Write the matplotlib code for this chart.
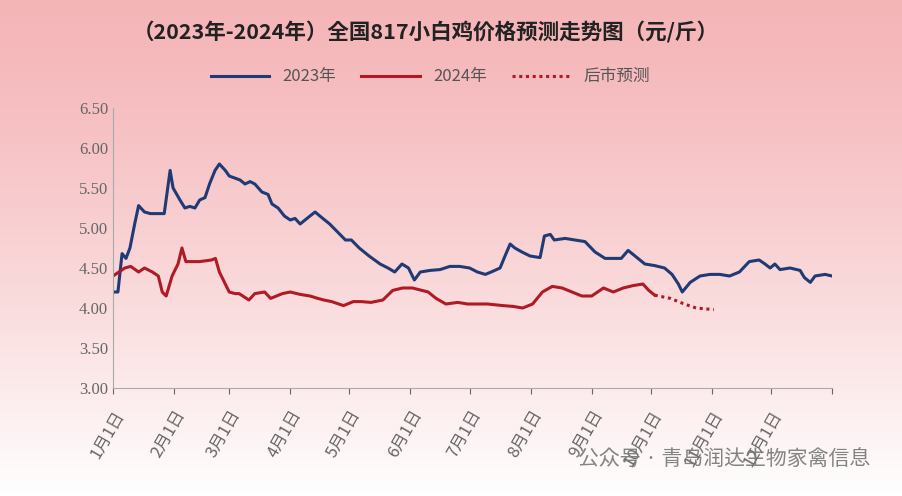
import numpy as np
import matplotlib.pyplot as plt

plt.rcParams['font.family'] = ['Noto Sans CJK SC', 'Noto Sans CJK JP', 'DejaVu Sans']
plt.rcParams['axes.unicode_minus'] = False

# 2023年 (日序, 价格)
d2023 = [0, 2.5, 4.6, 6.6, 8.6, 11, 13, 16, 19, 26, 29, 30.5, 34, 36.5, 39, 41.6, 44, 46.7, 49, 51.8, 54, 57, 59, 64.5,
         67, 69.6, 72, 75.6, 78.7, 80.7, 83.8, 87, 90, 92.4, 95, 100, 102.6, 105, 110, 114, 118, 121, 125, 130, 135.6,
         139.6, 143, 146.7, 150, 153, 156, 161, 166, 171, 176, 181, 185, 189, 192, 196.5, 199, 201.6, 204, 207.6, 211.7,
         216.8, 219, 222, 224, 229.5, 234.5, 239.6, 244.7, 249.8, 255, 258, 261.5, 265, 270, 275, 280, 283.8, 287, 289,
         293, 298, 303, 308, 313, 318, 323, 328, 331, 333.6, 336, 338.6, 343.7, 348.8, 351, 354, 356.4, 361.5, 365]
v2023 = [4.20, 4.20, 4.68, 4.62, 4.75, 5.05, 5.28, 5.20, 5.18, 5.18, 5.72, 5.50, 5.35, 5.25, 5.27, 5.25, 5.35, 5.38, 5.55,
         5.72, 5.80, 5.72, 5.65, 5.60, 5.55, 5.58, 5.55, 5.45, 5.42, 5.30, 5.25, 5.15, 5.10, 5.12, 5.05, 5.15, 5.20, 5.15,
         5.05, 4.95, 4.85, 4.85, 4.75, 4.65, 4.55, 4.50, 4.45, 4.55, 4.50, 4.35, 4.45, 4.47, 4.48, 4.52, 4.52, 4.50, 4.45,
         4.42, 4.45, 4.50, 4.65, 4.80, 4.75, 4.70, 4.65, 4.63, 4.90, 4.92, 4.85, 4.87, 4.85, 4.83, 4.70, 4.62, 4.62, 4.62,
         4.72, 4.65, 4.55, 4.53, 4.50, 4.42, 4.30, 4.20, 4.32, 4.40, 4.42, 4.42, 4.40, 4.45, 4.58, 4.60, 4.55, 4.50, 4.55,
         4.48, 4.50, 4.47, 4.38, 4.32, 4.40, 4.42, 4.40]

# 2024年
d2024 = [0, 3, 6, 9, 13, 16, 20, 23, 25, 27, 30, 33, 35, 37, 44, 50, 52, 54, 57, 59, 62, 64, 69, 72, 77, 80, 86, 90, 95,
         100, 104, 107, 111, 117, 122, 124, 126, 131, 137, 142, 147, 152, 160, 164, 169, 175, 180, 185, 190, 198, 203, 208,
         213, 218, 223, 228, 233, 238, 243, 249, 254, 259, 264, 269, 272, 275]
v2024 = [4.40, 4.45, 4.50, 4.52, 4.45, 4.50, 4.45, 4.40, 4.20, 4.15, 4.40, 4.55, 4.75, 4.58, 4.58, 4.60, 4.62, 4.45, 4.30,
         4.20, 4.18, 4.18, 4.10, 4.18, 4.20, 4.12, 4.18, 4.20, 4.17, 4.15, 4.12, 4.10, 4.08, 4.03, 4.08, 4.08, 4.08, 4.07,
         4.10, 4.22, 4.25, 4.25, 4.20, 4.12, 4.05, 4.07, 4.05, 4.05, 4.05, 4.03, 4.02, 4.00, 4.05, 4.20, 4.27, 4.25, 4.20,
         4.15, 4.15, 4.25, 4.20, 4.25, 4.28, 4.30, 4.22, 4.16]

# 后市预测
d_fc = [275, 283, 290, 296, 305]
v_fc = [4.16, 4.12, 4.05, 4.00, 3.98]

month_days = [0, 31, 59, 90, 120, 151, 181, 212, 243, 273, 304, 334]
month_labels = ['%d月1日' % m for m in range(1, 13)]

fig = plt.figure(figsize=(9.02, 4.96), dpi=100)
# 背景渐变
grad = np.linspace(0, 1, 256)[:, None, None]
top = np.array([0.96, 0.71, 0.72])
bot = np.array([1.0, 1.0, 1.0])
img = top * (1 - grad ** 1.3) + bot * grad ** 1.3
bg = fig.add_axes([0, 0, 1, 1])
bg.imshow(img, aspect='auto', extent=[0, 1, 0, 1], origin='upper')
bg.axis('off')

ax = fig.add_axes([113 / 902, 108 / 496, 719 / 902, 280 / 496])
ax.patch.set_alpha(0)
ax.plot(d2023, v2023, color='#1f3a75', lw=2.2)
ax.plot(d2024, v2024, color='#b01a24', lw=2.2)
ax.plot(d_fc, v_fc, color='#b01a24', lw=2.2, ls=(0, (1, 1.2)))

ax.set_xlim(0, 365)
ax.set_ylim(3, 6.5)
yt = np.arange(3, 6.51, 0.5)
ax.set_yticks(yt)
ax.set_yticklabels(['%.2f' % v for v in yt], fontfamily='Liberation Serif')
ax.set_xticks(month_days + [365])
ax.set_xticklabels(month_labels + [''], rotation=60, ha='right', rotation_mode='anchor')
for s in ['top', 'right']:
    ax.spines[s].set_visible(False)
ax.spines['left'].set_color('#aaaaaa')
ax.spines['bottom'].set_color('#aaaaaa')
ax.tick_params(colors='#666666', labelsize=12, length=4)
ax.tick_params(axis='x', pad=10)
ax.tick_params(axis='y', length=0)

fig.text(0.472, 0.935, '（2023年-2024年）全国817小白鸡价格预测走势图（元/斤）', ha='center', va='center',
         fontsize=15.5, fontweight='bold', color='#222222')
h1, = ax.plot([], [], color='#1f3a75', lw=2.2, label='2023年')
h2, = ax.plot([], [], color='#b01a24', lw=2.2, label='2024年')
h3, = ax.plot([], [], color='#b01a24', lw=2.2, ls=(0, (1, 1.2)), label='后市预测')
fig.legend(handles=[h1, h2, h3], loc='center', bbox_to_anchor=(0.477, 0.845), ncol=3, frameon=False,
           fontsize=12, handlelength=3.5, columnspacing=1.5, labelcolor='#555555')

fig.text(0.965, 0.075, '公众号 · 青岛润达生物家禽信息', ha='right', va='center', fontsize=15, color='#777777', alpha=0.9)

fig.savefig('out.png', dpi=100)
